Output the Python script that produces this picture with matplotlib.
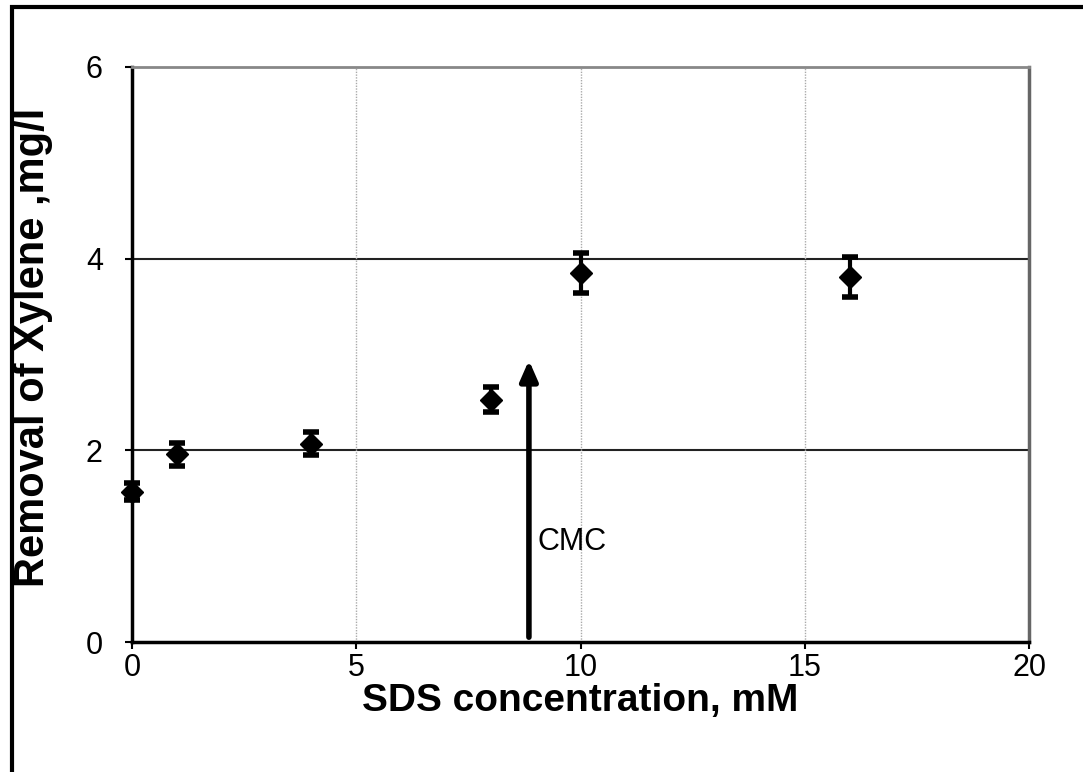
import matplotlib
matplotlib.use("Agg")
import matplotlib.pyplot as plt
from matplotlib.patches import Rectangle

plt.rcParams['font.family'] = ['Liberation Sans', 'DejaVu Sans']

# data
sds_mM = [0, 1, 4, 8, 10, 16]
removal = [1.57, 1.96, 2.07, 2.53, 3.85, 3.81]
err = [0.09, 0.12, 0.12, 0.13, 0.21, 0.21]
cmc_x = 8.85
cmc_top = 2.94

fig = plt.figure(figsize=(10.83, 7.72), dpi=100)
ax = fig.add_axes([132 / 1083, 1 - 642 / 772, (1029 - 132) / 1083, (642 - 67) / 772])

# outer frame around the whole chart
fig.patches.append(Rectangle((12 / 1083, -0.05), 1.2, 1 - 7 / 772 + 0.05,
                             transform=fig.transFigure, fill=False,
                             edgecolor='black', linewidth=3))

ax.errorbar(sds_mM, removal, yerr=err, fmt='D', color='black', markersize=11,
            elinewidth=3, capsize=6, capthick=4, zorder=5, clip_on=False)

ax.annotate('', xy=(cmc_x, cmc_top), xytext=(cmc_x, 0.05),
            arrowprops=dict(arrowstyle='-|>,head_width=0.35,head_length=0.8',
                            mutation_scale=15, color='black', lw=4,
                            shrinkA=0, shrinkB=0))
ax.text(cmc_x + 0.2, 1.04, 'CMC', fontsize=22, va='center', ha='left')

ax.set_xlim(0, 20)
ax.set_ylim(0, 6)
ax.set_xticks([0, 5, 10, 15, 20])
ax.set_yticks([0, 2, 4, 6])

for y in [2, 4]:
    ax.axhline(y, color='#222222', lw=1.5, zorder=1)
for x in [5, 10, 15]:
    ax.axvline(x, color='#aaaaaa', lw=1, ls=(0, (1, 1)), zorder=1)

ax.spines['left'].set_linewidth(2.5)
ax.spines['bottom'].set_linewidth(2.5)
ax.spines['top'].set_color('#888888')
ax.spines['right'].set_color('#666666')
ax.spines['top'].set_linewidth(2)
ax.spines['right'].set_linewidth(2.5)

ax.tick_params(direction='out', length=5, width=1.5, labelsize=22)
ax.tick_params(axis='x', pad=3)
ax.tick_params(axis='y', pad=16)

ax.set_xlabel('SDS concentration, mM', fontsize=28, fontweight='bold', labelpad=0)
ax.set_ylabel('Removal of Xylene ,mg/l', fontsize=30, fontweight='bold')
ax.yaxis.set_label_coords(-0.088, 0.513)

plt.savefig('out.png', dpi=100)
